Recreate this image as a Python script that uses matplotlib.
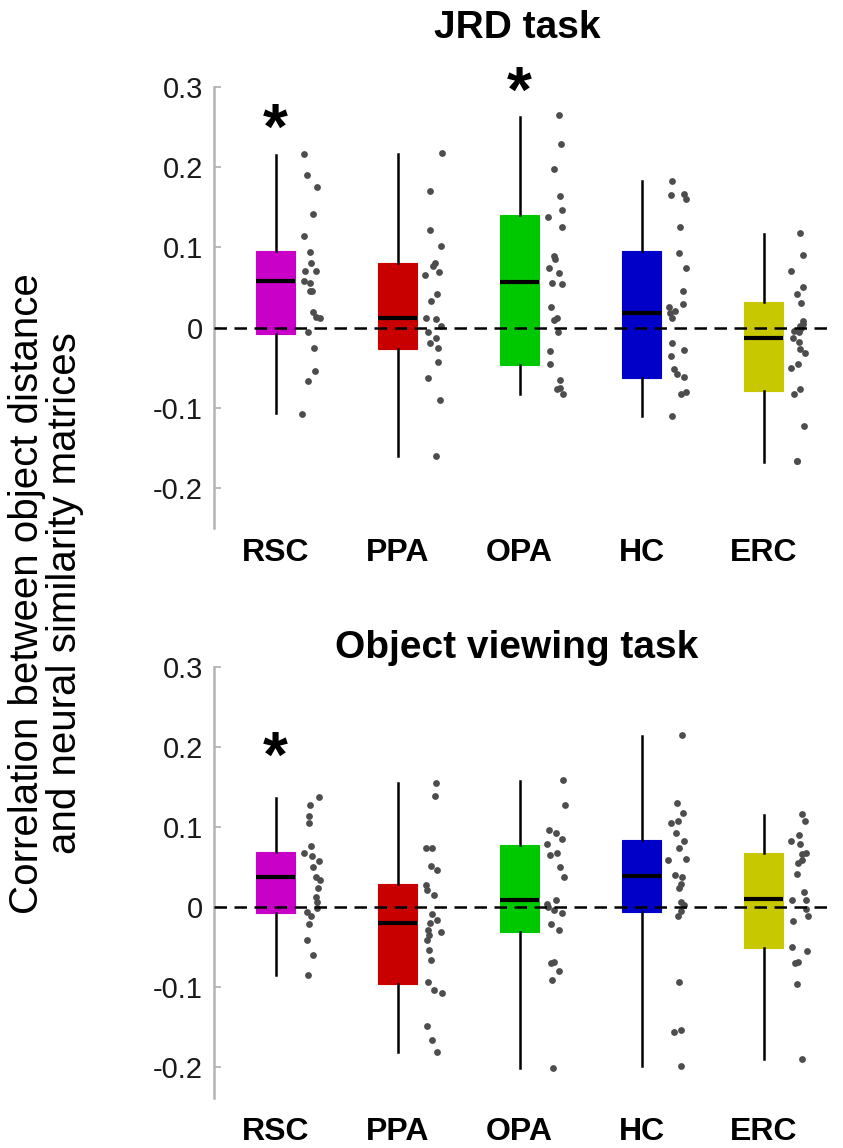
import numpy as np
import matplotlib
matplotlib.use("Agg")
import matplotlib.pyplot as plt

plt.rcParams['font.family'] = ['Liberation Sans', 'DejaVu Sans']
plt.rcParams['axes.unicode_minus'] = False

regions = ['RSC', 'PPA', 'OPA', 'HC', 'ERC']
box_colors = ['#c800c8', '#c80000', '#00c800', '#0000c8', '#c8c800']
ytick_vals = [0.3, 0.2, 0.1, 0.0, -0.1, -0.2]
ytick_text = ['0.3', '0.2', '0.1', '0', '-0.1', '-0.2']

# box summaries: q1, median, q3, lower whisker, upper whisker
jrd_q1 = [-0.008, -0.027, -0.047, -0.063, -0.079]
jrd_med = [0.058, 0.012, 0.057, 0.018, -0.013]
jrd_q3 = [0.096, 0.081, 0.140, 0.095, 0.032]
jrd_lo = [-0.106, -0.160, -0.0825, -0.110, -0.1675]
jrd_hi = [0.215, 0.217, 0.263, 0.1825, 0.117]

obj_q1 = [-0.008, -0.096, -0.031, -0.007, -0.052]
obj_med = [0.0375, -0.0196, 0.009, 0.038, 0.010]
obj_q3 = [0.069, 0.028, 0.077, 0.083, 0.0675]
obj_lo = [-0.085, -0.181, -0.202, -0.199, -0.190]
obj_hi = [0.136, 0.155, 0.158, 0.214, 0.115]

# individual subjects
jrd_rsc = [0.217, 0.19, 0.175, 0.141, 0.114, 0.094, 0.081, 0.071, 0.07, 0.058, 0.056,
           0.046, 0.045, 0.019, 0.013, 0.012, -0.006, -0.026, -0.054, -0.067, -0.108]
jrd_ppa = [0.218, 0.17, 0.122, 0.102, 0.08, 0.077, 0.069, 0.065, 0.042, 0.033, 0.012,
           0.011, 0.002, -0.006, -0.0125, -0.019, -0.025, -0.043, -0.0625, -0.091, -0.16]
jrd_opa = [0.265, 0.229, 0.198, 0.164, 0.146, 0.1375, 0.126, 0.0896, 0.085, 0.074, 0.068,
           0.056, 0.054, 0.025, 0.012, 0.010, -0.006, -0.029, -0.045, -0.065, -0.075,
           -0.077, -0.083]
jrd_hc = [0.183, 0.166, 0.165, 0.16, 0.126, 0.093, 0.074, 0.045, 0.029, 0.025, 0.021,
          0.018, 0.0125, -0.019, -0.028, -0.036, -0.052, -0.0575, -0.062, -0.08, -0.083, -0.11]
jrd_erc = [0.1175, 0.09, 0.071, 0.05, 0.042, 0.03, 0.008, 0.004, 0.002, 0.0, -0.004,
           -0.006, -0.0125, -0.0175, -0.027, -0.032, -0.045, -0.05, -0.077, -0.083,
           -0.123, -0.167, -0.166]

obj_rsc = [0.1375, 0.127, 0.114, 0.105, 0.076, 0.067, 0.063, 0.0575, 0.05, 0.0375, 0.034,
           0.023, 0.012, 0.006, -0.002, -0.006, -0.012, -0.021, -0.041, -0.06, -0.085]
obj_ppa = [0.155, 0.139, 0.074, 0.073, 0.051, 0.046, 0.027, 0.021, 0.015, -0.009, -0.016,
           -0.02, -0.029, -0.031, -0.035, -0.042, -0.054, -0.067, -0.094, -0.104, -0.1075,
           -0.149, -0.167, -0.181]
obj_opa = [0.159, 0.128, 0.096, 0.092, 0.085, 0.078, 0.0675, 0.065, 0.05, 0.037, 0.009,
           0.004, 0.0, -0.004, -0.008, -0.022, -0.029, -0.069, -0.07, -0.08, -0.092, -0.202]
obj_hc = [0.215, 0.13, 0.1175, 0.108, 0.105, 0.092, 0.082, 0.074, 0.06, 0.058, 0.0396,
          0.037, 0.029, 0.023, 0.006, 0.002, -0.005, -0.011, -0.094, -0.154, -0.156, -0.199]
obj_erc = [0.116, 0.108, 0.09, 0.0825, 0.078, 0.067, 0.066, 0.058, 0.055, 0.041, 0.019,
           0.009, 0.008, -0.003, -0.012, -0.018, -0.05, -0.055, -0.069, -0.07, -0.097, -0.19]

# significance stars (region index, height)
jrd_stars = [(0, 0.2625), (2, 0.309)]
obj_stars = [(0, 0.2025)]

rng = np.random.default_rng(3)


def panel(ax, q1, med, q3, lo, hi, pts, stars, ylow, title, title_y, lab_pad):
    stats = []
    for i in range(len(regions)):
        stats.append(dict(med=med[i], q1=q1[i], q3=q3[i], whislo=lo[i], whishi=hi[i],
                          fliers=[], label=regions[i]))
    bp = ax.bxp(stats, positions=range(len(regions)), widths=0.32, patch_artist=True,
                showfliers=False, showcaps=False,
                medianprops=dict(color='black', lw=3),
                whiskerprops=dict(color='black', lw=1.8),
                boxprops=dict(lw=0.8))
    for p, c in zip(bp['boxes'], box_colors):
        p.set_facecolor(c)
        p.set_edgecolor(c)
    for i, v in enumerate(pts):
        xs = i + rng.uniform(0.22, 0.37, len(v))
        ax.scatter(xs, v, s=24, color='#4d4d4d', lw=0, zorder=4)
    ax.axhline(0, color='black', lw=1.8, dashes=(5, 3), zorder=5)
    for i, y in stars:
        ax.text(i, y - 0.04, '*', fontsize=46, fontweight='bold', ha='center',
                va='baseline', zorder=6)

    ax.set_xlim(-0.504, 4.57)
    ax.set_ylim(ylow, 0.3)
    ax.set_yticks(ytick_vals)
    ax.set_yticklabels(ytick_text, fontsize=21, color='#1a1a1a')
    ax.set_xticks(range(len(regions)))
    ax.set_xticklabels(regions, fontsize=23, fontweight='bold')
    ax.tick_params(axis='x', length=0, pad=lab_pad)
    ax.tick_params(axis='y', direction='in', length=5, width=1.2, color='#b0b0b0', pad=8)
    for s in ['top', 'right', 'bottom']:
        ax.spines[s].set_visible(False)
    ax.spines['left'].set_color('#b4b4b4')
    ax.spines['left'].set_linewidth(1.8)
    fig.text(517 / 843, title_y, title, fontsize=28, fontweight='bold',
             ha='center', va='baseline')


fig = plt.figure(figsize=(8.43, 11.48), dpi=100)
ax1 = fig.add_axes([0.2539, 0.5401, 0.7343, 0.3841])
ax2 = fig.add_axes([0.2539, 0.0436, 0.7343, 0.3754])

panel(ax1, jrd_q1, jrd_med, jrd_q3, jrd_lo, jrd_hi,
      [jrd_rsc, jrd_ppa, jrd_opa, jrd_hc, jrd_erc], jrd_stars, -0.25,
      'JRD task', 1 - 38 / 1148, 7)
panel(ax2, obj_q1, obj_med, obj_q3, obj_lo, obj_hi,
      [obj_rsc, obj_ppa, obj_opa, obj_hc, obj_erc], obj_stars, -0.239,
      'Object viewing task', 1 - 658 / 1148, 14)

fig.text(0.054, 0.483, 'Correlation between object distance\nand neural similarity matrices',
         rotation=90, fontsize=29, ha='center', va='center', multialignment='center',
         linespacing=1.0)

fig.savefig('out.png', dpi=100)
